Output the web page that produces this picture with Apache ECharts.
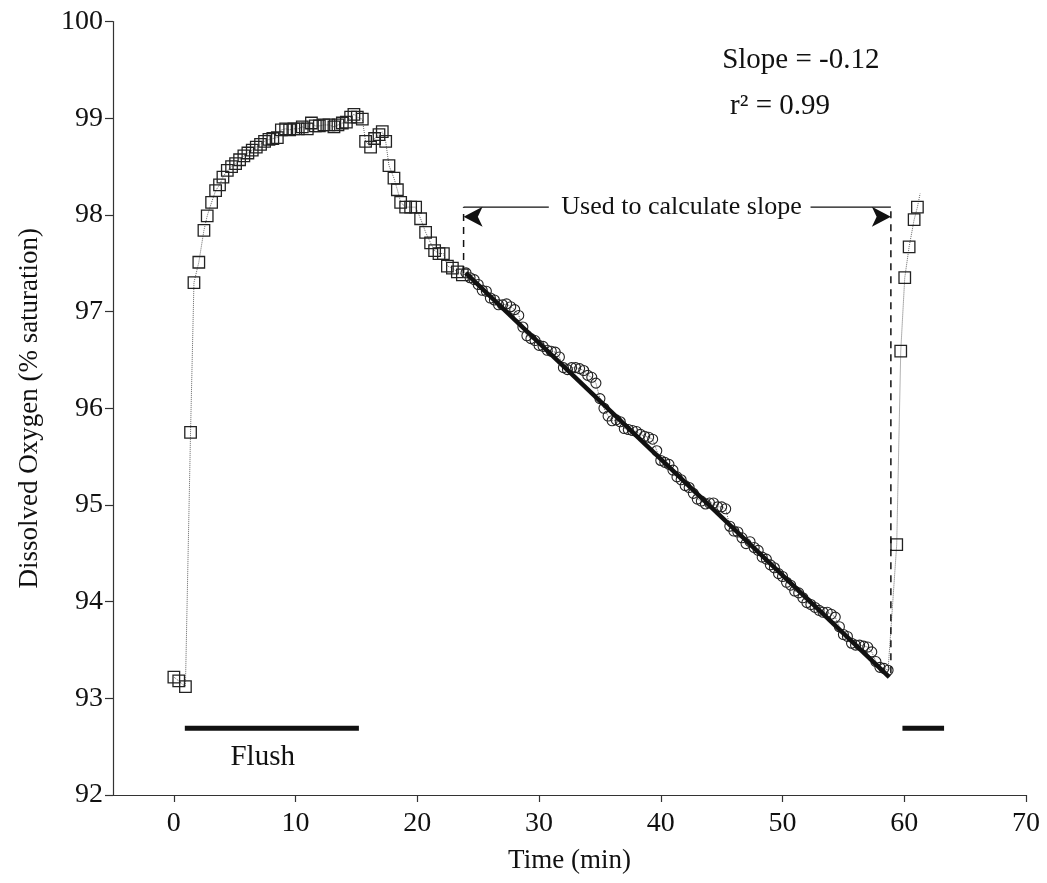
<!DOCTYPE html>
<html>
<head>
<meta charset="utf-8">
<script src="https://cdn.jsdelivr.net/npm/echarts@6/dist/echarts.min.js"></script>
<style>
html,body{margin:0;padding:0;background:#fff;}
#chart{width:1047px;height:883px;}
</style>
</head>
<body>
<div id="chart"></div>
<script>
// ---- data ----
const earlyX = [0.00,0.40,0.95,1.37,1.65,2.05,2.47,2.74,3.10,3.43,3.75,4.03,4.39,4.74,5.07,5.40,5.75,6.08,6.44,6.77,7.12,7.45,7.81,8.13,8.50,8.83,9.18,9.51,9.86,10.22,10.55,10.96,11.30,11.62,11.95,12.33,12.74,13.15,13.48,13.84,14.17,14.52,14.79,15.07,15.48,15.75,16.16,16.49,16.85,17.12,17.40,17.67,18.08,18.36,18.63,19.04,19.45,19.86,20.27,20.68,21.09,21.42,21.78,22.14,22.47,22.88,23.29,23.70];
const earlyY = [93.22,93.18,93.12,95.75,97.30,97.51,97.84,97.99,98.13,98.25,98.31,98.39,98.46,98.50,98.53,98.57,98.61,98.64,98.67,98.70,98.73,98.76,98.78,98.79,98.80,98.88,98.89,98.88,98.89,98.89,98.91,98.89,98.95,98.92,98.92,98.93,98.93,98.91,98.93,98.95,98.96,99.01,99.04,99.01,98.99,98.76,98.70,98.79,98.83,98.86,98.76,98.51,98.38,98.26,98.13,98.08,98.08,98.08,97.96,97.82,97.71,97.63,97.60,97.60,97.47,97.45,97.41,97.38];

const slopeX = [24.00,24.33,24.67,25.00,25.33,25.67,26.00,26.33,26.67,27.00,27.33,27.67,28.00,28.33,28.67,29.00,29.33,29.67,30.00,30.33,30.67,31.00,31.33,31.67,32.00,32.33,32.67,33.00,33.33,33.67,34.00,34.33,34.67,35.00,35.33,35.67,36.00,36.33,36.67,37.00,37.33,37.67,38.00,38.33,38.67,39.00,39.33,39.67,40.00,40.33,40.67,41.00,41.33,41.67,42.00,42.33,42.67,43.00,43.33,43.67,44.00,44.33,44.67,45.00,45.33,45.67,46.00,46.33,46.67,47.00,47.33,47.67,48.00,48.33,48.67,49.00,49.33,49.67,50.00,50.33,50.67,51.00,51.33,51.67,52.00,52.33,52.67,53.00,53.33,53.67,54.00,54.33,54.67,55.00,55.33,55.67,56.00,56.33,56.67,57.00,57.33,57.67,58.00,58.33,58.67];
const slopeY = [97.40,97.35,97.33,97.28,97.22,97.21,97.14,97.12,97.07,97.07,97.08,97.05,97.02,96.96,96.84,96.75,96.72,96.70,96.65,96.64,96.60,96.59,96.58,96.53,96.42,96.40,96.42,96.42,96.41,96.39,96.34,96.32,96.26,96.10,96.00,95.92,95.87,95.88,95.86,95.79,95.78,95.77,95.76,95.73,95.71,95.70,95.68,95.56,95.46,95.44,95.42,95.36,95.29,95.26,95.20,95.18,95.12,95.06,95.04,95.01,95.02,95.02,94.98,94.98,94.96,94.78,94.73,94.72,94.66,94.60,94.62,94.56,94.53,94.46,94.44,94.38,94.35,94.29,94.26,94.20,94.17,94.11,94.09,94.04,93.99,93.97,93.94,93.91,93.89,93.89,93.87,93.84,93.74,93.66,93.64,93.57,93.55,93.55,93.54,93.53,93.48,93.38,93.32,93.31,93.29];

const lateX = [59.38,59.71,60.04,60.40,60.81,61.08];
const lateY = [94.59,96.59,97.35,97.67,97.95,98.08];
const tailX = [61.30];
const tailY = [98.22];

const fitX = [23.97,58.77];
const fitY = [97.40,93.22];

const flushAX = [0.90,15.20];
const flushBX = [59.85,63.27];
const flushLevel = 92.69;

const windowX = [23.80,58.90];          // start / end of the slope window
const windowBottomY = [97.40,93.26];
const arrowLevel = 98.08;
const arrowTailX = [30.80,52.30];

const xTicks = [0,10,20,30,40,50,60,70];
const yTicks = [92,93,94,95,96,97,98,99,100];

const slopeText = 'Slope = -0.12';
const r2Text = 'r\u00B2 = 0.99';
const windowText = 'Used to calculate slope';
const flushText = 'Flush';
const textPos = {slope:[51.5,99.60], r2:[49.8,99.12], window:[41.7,98.08], flush:[7.3,92.39]};

// ---- build ----
const zip = (xs, ys) => xs.map((x, i) => [x, ys[i]]);
const FONT = 'Liberation Serif';
const INK = '#111';

const allPts = zip(earlyX, earlyY).concat(zip(slopeX, slopeY), zip(lateX, lateY), zip(tailX, tailY));
const squares = zip(earlyX, earlyY).concat(zip(lateX, lateY));
const circles = zip(slopeX, slopeY);

function arrowSeries(tailx, tipx) {
  const pointsLeft = tipx < tailx;
  return {
    type: 'line', silent: true, z: 6,
    data: [
      {value: [tailx, arrowLevel], symbol: 'none'},
      {value: [tipx, arrowLevel], symbol: 'arrow', symbolSize: [15, 19],
       symbolRotate: pointsLeft ? 90 : -90, symbolOffset: [0, 9.5]}
    ],
    showSymbol: true,
    itemStyle: {color: INK, opacity: 1},
    lineStyle: {color: INK, width: 1.4}
  };
}

function textItem(pos, txt, size) {
  return {value: pos, label: {formatter: txt, fontSize: size}};
}

const chart = echarts.init(document.getElementById('chart'), null, {renderer: 'canvas'});
chart.setOption({
  animation: false,
  backgroundColor: '#fff',
  grid: {left: 113, right: 21, top: 21.5, bottom: 88},
  xAxis: {
    type: 'value', min: -5, max: 70,
    name: 'Time (min)', nameLocation: 'middle', nameGap: 52, nameMoveOverlap: false,
    nameTextStyle: {fontFamily: FONT, fontSize: 27, color: INK},
    axisLine: {show: true, onZero: false, lineStyle: {color: '#333', width: 1.2}},
    axisTick: {show: true, length: 7, customValues: xTicks, lineStyle: {color: '#333', width: 1.2}},
    axisLabel: {customValues: xTicks, margin: 15, fontFamily: FONT, fontSize: 28, color: INK},
    splitLine: {show: false}
  },
  yAxis: {
    type: 'value', min: 92, max: 100, interval: 1,
    name: 'Dissolved Oxygen (% saturation)', nameLocation: 'middle', nameGap: 70, nameMoveOverlap: false,
    nameTextStyle: {fontFamily: FONT, fontSize: 27, color: INK},
    axisLine: {show: true, onZero: false, lineStyle: {color: '#333', width: 1.2}},
    axisTick: {show: true, length: 8, customValues: yTicks, lineStyle: {color: '#333', width: 1.2}},
    axisLabel: {customValues: yTicks, margin: 10, fontFamily: FONT, fontSize: 28, color: INK},
    splitLine: {show: false}
  },
  series: [
    {type: 'line', data: allPts, symbol: 'none', silent: true, z: 1,
     lineStyle: {type: 'dotted', width: 1, color: '#666'}},
    {type: 'scatter', data: squares, symbol: 'rect', symbolSize: 11.5, z: 3,
     itemStyle: {color: 'rgba(255,255,255,0)', borderColor: '#222', borderWidth: 1.3, opacity: 1}},
    {type: 'scatter', data: circles, symbol: 'circle', symbolSize: 10, z: 3,
     itemStyle: {color: 'rgba(255,255,255,0)', borderColor: '#222', borderWidth: 1.1, opacity: 1}},
    {type: 'line', data: zip(fitX, fitY), symbol: 'none', z: 4,
     lineStyle: {color: '#111', width: 4.5}},
    {type: 'line', data: flushAX.map(x => [x, flushLevel]), symbol: 'none', z: 4,
     lineStyle: {color: '#111', width: 5}},
    {type: 'line', data: flushBX.map(x => [x, flushLevel]), symbol: 'none', z: 4,
     lineStyle: {color: '#111', width: 5}},
    {type: 'line', data: [[windowX[0], windowBottomY[0]], [windowX[0], arrowLevel]], symbol: 'none', z: 5,
     lineStyle: {color: INK, width: 1.5, type: [7, 6]}},
    {type: 'line', data: [[windowX[1], windowBottomY[1]], [windowX[1], arrowLevel]], symbol: 'none', z: 5,
     lineStyle: {color: INK, width: 1.5, type: [7, 6]}},
    arrowSeries(arrowTailX[0], windowX[0]),
    arrowSeries(arrowTailX[1], windowX[1]),
    {type: 'scatter', symbol: 'circle', symbolSize: 1, silent: true, z: 7,
     itemStyle: {color: 'rgba(0,0,0,0)', opacity: 1},
     label: {show: true, position: 'inside', fontFamily: FONT, color: INK, opacity: 1},
     data: [
       textItem(textPos.slope, slopeText, 29),
       textItem(textPos.r2, r2Text, 29),
       textItem(textPos.window, windowText, 26),
       textItem(textPos.flush, flushText, 29)
     ]}
  ]
});
</script>
</body>
</html>
